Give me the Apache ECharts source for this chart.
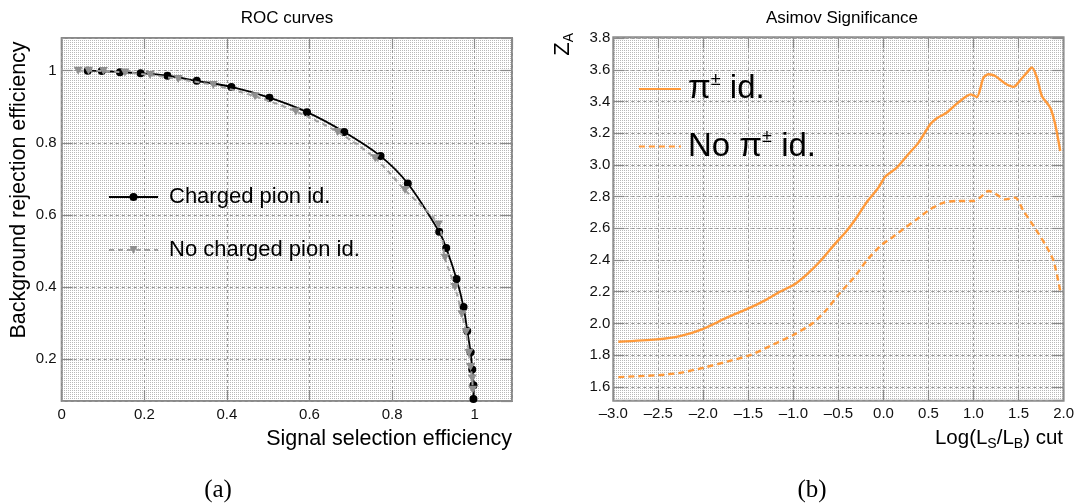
<!DOCTYPE html>
<html>
<head>
<meta charset="utf-8">
<script src="https://cdn.jsdelivr.net/npm/echarts@6/dist/echarts.min.js"></script>
<style>
html,body{margin:0;padding:0;background:#fff;}
#c{width:1077px;height:504px;}
</style>
</head>
<body>
<div id="c"></div>
<script>
// ---- Data: ROC curves (left) ----
const rocSigPion = [0.063,0.097,0.141,0.191,0.256,0.327,0.411,0.503,0.594,0.684,0.772,0.838,0.914,0.931,0.956,0.973,0.982,0.990,0.994,0.997,0.997];
const rocBkgPion = [1.000,0.999,0.996,0.993,0.986,0.972,0.955,0.925,0.885,0.830,0.763,0.687,0.553,0.508,0.422,0.344,0.278,0.219,0.171,0.127,0.089];
const rocSigNoPion = [0.040,0.065,0.101,0.153,0.214,0.282,0.367,0.468,0.567,0.668,0.759,0.831,0.912,0.928,0.952,0.969,0.979,0.986,0.990,0.994,0.995];
const rocBkgNoPion = [1.000,1.000,0.999,0.995,0.988,0.977,0.960,0.929,0.887,0.830,0.757,0.669,0.573,0.481,0.400,0.324,0.275,0.217,0.178,0.146,0.115];

// ---- Data: Asimov significance (right) ----
const cutPion = [-2.944,-2.52,-2.26,-2.0,-1.74,-1.48,-1.30,-1.15,-0.99,-0.85,-0.70,-0.56,-0.41,-0.30,-0.19,-0.056,0.019,0.148,0.259,0.389,0.519,0.593,0.704,0.815,0.926,0.97,1.037,1.111,1.167,1.241,1.352,1.444,1.519,1.593,1.648,1.704,1.759,1.852,1.907,1.963];
const zaPion  = [1.884,1.899,1.92,1.966,2.036,2.099,2.15,2.20,2.246,2.31,2.394,2.488,2.583,2.667,2.762,2.857,2.926,2.983,3.057,3.141,3.257,3.295,3.331,3.387,3.436,3.446,3.429,3.552,3.573,3.562,3.514,3.493,3.535,3.583,3.615,3.552,3.436,3.362,3.257,3.088];
const cutNoPion = [-2.944,-2.48,-2.26,-2.0,-1.74,-1.48,-1.26,-0.99,-0.78,-0.63,-0.48,-0.33,-0.19,-0.037,0.093,0.241,0.37,0.519,0.667,0.815,1.0,1.074,1.167,1.241,1.352,1.463,1.556,1.667,1.796,1.889,1.963];
const zaNoPion  = [1.661,1.674,1.688,1.72,1.758,1.80,1.857,1.93,2.004,2.088,2.194,2.288,2.394,2.488,2.541,2.604,2.657,2.72,2.762,2.773,2.773,2.794,2.836,2.819,2.783,2.794,2.709,2.615,2.499,2.394,2.204];

const legendRoc = ['Charged pion id.', 'No charged pion id.'];
const legendZa = ['pion', 'nopion'];
const legendZaText = {pion: '{b|π}{s|±}{b| id.}', nopion: '{b|No π}{s|±}{b| id.}'};

// ---- Build ----
const pairs = (xs, ys) => xs.map((x, i) => [x, ys[i]]);
const FONT = 'Liberation Sans, Arial, Helvetica, sans-serif';
const FRAME = '#8a8a8a';
const ORANGE = '#ff9a3a';

// dotted background pattern similar to ROOT fill
const pc = document.createElement('canvas');
pc.width = 2; pc.height = 2;
const pctx = pc.getContext('2d');
pctx.fillStyle = '#ffffff'; pctx.fillRect(0,0,2,2);
pctx.fillStyle = '#b8b8b8'; pctx.fillRect(0,0,1,1);
const bgPattern = {image: pc, repeat: 'repeat'};

const gridL = {left: 61.7, top: 38, width: 450.3, height: 363};
const gridR = {left: 613.3, top: 37.3, width: 450.7, height: 363.4};

const tickStyle = {show: true, inside: true, length: 11, lineStyle: {color: FRAME, width: 1.2}};
const splitStyle = {show: true, lineStyle: {color: '#9a9a9a', width: 1, type: [3, 3]}};
const labelStyle = {color: '#111', fontSize: 15, fontFamily: FONT};
const noLine = {show: false, onZero: false};

const fmtMinus = v => (v < 0 ? '\u2013' : '') + Math.abs(v).toFixed(1);

const chart = echarts.init(document.getElementById('c'), null, {renderer: 'canvas'});
chart.setOption({
  animation: false,
  backgroundColor: '#ffffff',
  grid: [
    Object.assign({show: true, backgroundColor: bgPattern, borderColor: FRAME, borderWidth: 2}, gridL),
    Object.assign({show: true, backgroundColor: bgPattern, borderColor: FRAME, borderWidth: 2}, gridR)
  ],
  xAxis: [
    {type: 'value', gridIndex: 0, min: 0, max: 1.0903, interval: 0.2,
     axisLine: noLine, axisTick: tickStyle, splitLine: splitStyle,
     axisLabel: Object.assign({margin: 6, showMaxLabel: false, formatter: v => String(+v.toFixed(1))}, labelStyle)},
    {type: 'value', gridIndex: 1, min: -3, max: 2, interval: 0.5,
     axisLine: noLine, axisTick: tickStyle, splitLine: splitStyle,
     axisLabel: Object.assign({margin: 6, formatter: fmtMinus}, labelStyle)},
    {type: 'value', gridIndex: 0, position: 'top', min: 0, max: 1.0903, interval: 0.2,
     axisLine: noLine, axisTick: tickStyle, splitLine: {show: false}, axisLabel: {show: false}},
    {type: 'value', gridIndex: 1, position: 'top', min: -3, max: 2, interval: 0.5,
     axisLine: noLine, axisTick: tickStyle, splitLine: {show: false}, axisLabel: {show: false}}
  ],
  yAxis: [
    {type: 'value', gridIndex: 0, min: 0.0835, max: 1.0907, splitNumber: 5,
     axisLine: noLine, axisTick: tickStyle, splitLine: splitStyle,
     axisLabel: Object.assign({margin: 5, showMinLabel: false, showMaxLabel: false, formatter: v => String(+v.toFixed(1))}, labelStyle)},
    {type: 'value', gridIndex: 1, min: 1.512, max: 3.806, splitNumber: 11,
     axisLine: noLine, axisTick: tickStyle, splitLine: splitStyle,
     axisLabel: Object.assign({margin: 3, showMinLabel: false, showMaxLabel: false, formatter: v => v.toFixed(1)}, labelStyle)},
    {type: 'value', gridIndex: 0, position: 'right', min: 0.0835, max: 1.0907, splitNumber: 5,
     axisLine: noLine, axisTick: tickStyle, splitLine: {show: false}, axisLabel: {show: false}},
    {type: 'value', gridIndex: 1, position: 'right', min: 1.512, max: 3.806, splitNumber: 11,
     axisLine: noLine, axisTick: tickStyle, splitLine: {show: false}, axisLabel: {show: false}}
  ],
  legend: [
    {data: legendRoc, orient: 'vertical', left: 108, top: 186, padding: 0, itemWidth: 49, itemHeight: 10, itemGap: 31,
     selectedMode: false, textStyle: {color: '#000', fontSize: 22, fontFamily: FONT, padding: [0,0,0,6]}},
    {data: legendZa, orient: 'vertical', left: 638, top: 71, padding: 0, itemWidth: 42, itemHeight: 10, itemGap: 23,
     selectedMode: false, formatter: n => legendZaText[n], itemStyle: {opacity: 0},
     textStyle: {color: '#000', fontFamily: FONT, padding: [0,0,0,2],
       rich: {b: {fontSize: 33, lineHeight: 36, fontFamily: FONT, color: '#000'},
              s: {fontSize: 18, lineHeight: 36, verticalAlign: 'top', fontFamily: FONT, color: '#000'}}}}
  ],
  series: [
    {name: 'Charged pion id.', type: 'line', xAxisIndex: 0, yAxisIndex: 0, data: pairs(rocSigPion, rocBkgPion),
     smooth: 0.3, symbol: 'circle', symbolSize: 8, color: '#000', itemStyle: {color: '#000'},
     lineStyle: {color: '#000', width: 1.8}, z: 3},
    {name: 'No charged pion id.', type: 'line', xAxisIndex: 0, yAxisIndex: 0, data: pairs(rocSigNoPion, rocBkgNoPion),
     smooth: 0.3, symbol: 'path://M0,0L10,0L5,9Z', symbolSize: [9, 8], color: '#8f8f8f', itemStyle: {color: '#8f8f8f'},
     lineStyle: {color: '#a0a0a0', width: 2, type: [5, 4]}, z: 4},
    {name: 'pion', type: 'line', xAxisIndex: 1, yAxisIndex: 1, data: pairs(cutPion, zaPion),
     smooth: 0.25, symbol: 'none', color: ORANGE, lineStyle: {color: ORANGE, width: 2.4}},
    {name: 'nopion', type: 'line', xAxisIndex: 1, yAxisIndex: 1, data: pairs(cutNoPion, zaNoPion),
     smooth: 0.25, symbol: 'none', color: ORANGE, lineStyle: {color: ORANGE, width: 2.4, type: [6, 4]}}
  ],
  graphic: [
    {type: 'text', x: 287, y: 18, style: {text: 'ROC curves', font: '17px ' + FONT, fill: '#000', textAlign: 'center', textVerticalAlign: 'middle'}},
    {type: 'text', x: 842, y: 18, style: {text: 'Asimov Significance', font: '17px ' + FONT, fill: '#000', textAlign: 'center', textVerticalAlign: 'middle'}},
    {type: 'text', x: 19, y: 190, rotation: Math.PI / 2, style: {text: 'Background rejection efficiency', font: '21.5px ' + FONT, fill: '#000', textAlign: 'center', textVerticalAlign: 'middle'}},
    {type: 'text', x: 512, y: 439, style: {text: 'Signal selection efficiency', font: '21.5px ' + FONT, fill: '#000', textAlign: 'right', textVerticalAlign: 'middle'}},
    {type: 'text', x: 563, y: 33, rotation: Math.PI / 2, style: {text: '{z|Z}{a|A}', textAlign: 'right', textVerticalAlign: 'middle',
      rich: {z: {fontSize: 22, fontFamily: FONT, fill: '#000', lineHeight: 24}, a: {fontSize: 14, fontFamily: FONT, fill: '#000', verticalAlign: 'top', padding: [12,0,0,0]}}}},
    {type: 'text', x: 1063, y: 438, style: {text: '{n|Log(L}{s|S}{n|/L}{s|B}{n|) cut}', textAlign: 'right', textVerticalAlign: 'middle',
      rich: {n: {fontSize: 20.5, fontFamily: FONT, fill: '#000', lineHeight: 24}, s: {fontSize: 14, fontFamily: FONT, fill: '#000', verticalAlign: 'top', padding: [12,0,0,0]}}}},
    {type: 'text', x: 218, y: 490, style: {text: '(a)', font: '25px Liberation Serif, serif', fill: '#000', textAlign: 'center', textVerticalAlign: 'middle'}},
    {type: 'text', x: 812, y: 490, style: {text: '(b)', font: '25px Liberation Serif, serif', fill: '#000', textAlign: 'center', textVerticalAlign: 'middle'}}
  ]
});
</script>
</body>
</html>
